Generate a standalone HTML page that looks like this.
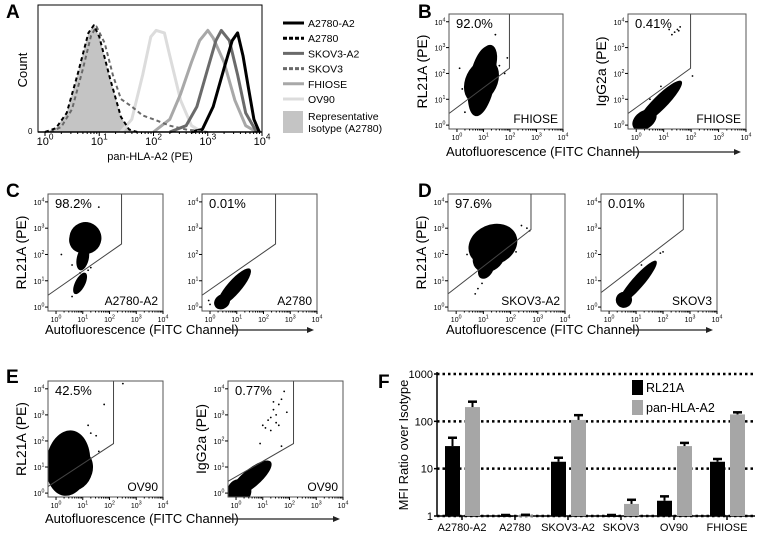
<!DOCTYPE html>
<html><head><meta charset="utf-8"><style>
html,body{margin:0;padding:0;background:#fff;}
svg{display:block;font-family:"Liberation Sans",sans-serif;}
</style></head><body>
<svg id="fig" width="762" height="543" viewBox="0 0 762 543" xmlns="http://www.w3.org/2000/svg"></svg>
<script>
// ---------- Panel F data ----------
const fCategories = ["A2780-A2","A2780","SKOV3-A2","SKOV3","OV90","FHIOSE"];
const fRL21A = [30, 1.03, 14, 1.03, 2.1, 14];
const fRL21AErr = [45, 1.05, 17, 1.05, 2.6, 16];
const fPanHLA = [200, 1.04, 107, 1.8, 30, 140];
const fPanHLAErr = [260, 1.06, 135, 2.2, 35, 155];
const fTicks = [1, 10, 100, 1000];
const fTickLabels = ["1","10","100","1000"];
// ---------- Panel A data (log10 intensity, relative count) ----------
const aIsoX = [0.0,0.2,0.4,0.6,0.8,0.9,1.0,1.2,1.4,1.55,1.7];
const aIsoY = [0,0.03,0.15,0.45,0.78,0.84,0.75,0.42,0.12,0.02,0];
const aSkov3X = [0.1,0.3,0.5,0.7,0.85,0.95,1.1,1.25,1.4,1.6,1.8,2.0,2.3,2.6,3.0];
const aSkov3Y = [0,0.04,0.18,0.5,0.76,0.83,0.7,0.45,0.26,0.2,0.13,0.1,0.05,0.02,0];
const aOv90X = [1.4,1.6,1.8,1.95,2.05,2.2,2.3,2.5,2.7,2.9];
const aOv90Y = [0,0.1,0.45,0.75,0.8,0.78,0.6,0.25,0.05,0];
const aFhioseX = [2.0,2.3,2.5,2.7,2.85,3.0,3.1,3.3,3.5,3.7,3.9];
const aFhioseY = [0,0.1,0.3,0.55,0.72,0.8,0.74,0.55,0.25,0.05,0];
const aSkovA2X = [2.3,2.6,2.8,3.0,3.15,3.25,3.4,3.55,3.7,3.9];
const aSkovA2Y = [0,0.05,0.2,0.5,0.72,0.8,0.72,0.45,0.15,0];
const aA2780A2X = [2.7,2.9,3.1,3.3,3.45,3.55,3.65,3.75,3.85,3.95];
const aA2780A2Y = [0,0.02,0.2,0.5,0.72,0.78,0.6,0.35,0.1,0];

const NS="http://www.w3.org/2000/svg";
const svg=document.getElementById('fig');
function el(tag,attrs,parent,text){
  const e=document.createElementNS(NS,tag);
  for(const k in attrs)e.setAttribute(k,attrs[k]);
  if(text!==undefined)e.textContent=text;
  (parent||svg).appendChild(e);return e;
}
function panelLabel(t,x,y){
  const e=el('text',{x:x,y:y,'font-size':19,'font-weight':'bold'},svg,t);
  
  
}
function pow10(parent,x,y,exp,fs){
  const t=el('text',{x:x,y:y,'font-size':fs,'text-anchor':'middle'},parent);
  
  
  el('tspan',{},t,'10');
  el('tspan',{dy:-fs*0.5,'font-size':fs*0.75},t,String(exp));
}

// ---------- Panel A ----------
panelLabel('A',6,18);
(function(){
  const g=el('g',{});
  
  
  const L=38,R=262,T=5,B=132;
  const sx=v=>45+v*54.25;
  function path(xs,ys){
    let d='';xs.forEach((v,i)=>{d+=(i?'L':'M')+sx(v).toFixed(1)+','+(B-ys[i]*127).toFixed(1);});return d;
  }
  const f=el('path',{d:path(aIsoX,aIsoY)+'Z',fill:'#c4c4c4',stroke:'none'},g);
  
  const curves=[
    [aOv90X,aOv90Y,'#dcdcdc',3,null,'ov90-curve'],
    [aFhioseX,aFhioseY,'#a8a8a8',3,null,'fhiose-curve'],
    [aSkovA2X,aSkovA2Y,'#6a6a6a',3,null,'skov3-a2-curve'],
    [aA2780A2X,aA2780A2Y,'#000',3,null,'a2780-a2-curve'],
    [aSkov3X,aSkov3Y,'#6a6a6a',2,'4 3','skov3-curve'],
    [aIsoX,aIsoY,'#000',2,'4 3','a2780-curve'],
  ];
  curves.forEach(c=>{
    const p=el('path',{d:path(c[0],c[1]),fill:'none',stroke:c[2],'stroke-width':c[3],'stroke-dasharray':c[4]||'none','stroke-linejoin':'round'},g);
    
  });
  el('rect',{x:L,y:T,width:R-L,height:B-T,fill:'none',stroke:'#000','stroke-width':1},g);
  el('line',{x1:L,y1:B,x2:R,y2:B,stroke:'#000','stroke-width':1.5},g);
  for(let e=0;e<=4;e++){
    el('line',{x1:sx(e),y1:B,x2:sx(e),y2:B+4,stroke:'#000'},g);
    for(let m=2;m<10&&e<4;m++)el('line',{x1:sx(e+Math.log10(m)),y1:B,x2:sx(e+Math.log10(m)),y2:B+2,stroke:'#000'},g);
    pow10(g,sx(e),145,e,11);
  }
  el('text',{x:28,y:134,'font-size':8},g,'0');
  const yl=el('text',{x:0,y:0,'font-size':13,'text-anchor':'middle',transform:'translate(27,70) rotate(-90)'},g,'Count');
  
  const xl=el('text',{x:150,y:160,'font-size':11,'text-anchor':'middle'},g,'pan-HLA-A2 (PE)');
  
  const leg=[['A2780-A2','#000',null],['A2780','#000','4 2'],['SKOV3-A2','#6a6a6a',null],['SKOV3','#6a6a6a','4 2'],['FHIOSE','#a8a8a8',null],['OV90','#dcdcdc',null]];
  leg.forEach((l,i)=>{
    const y=23+i*15.2;
    const lg=el('g',{},g);
    
    
    el('line',{x1:283,y1:y,x2:304,y2:y,stroke:l[1],'stroke-width':3,'stroke-dasharray':l[2]||'none'},lg);
    el('text',{x:308,y:y+4,'font-size':10.5},lg,l[0]);
  });
  const ig=el('g',{},g);
  
  el('rect',{x:283,y:111,width:20,height:22,fill:'#c4c4c4'},ig);
  el('text',{x:308,y:120,'font-size':10.5},ig,'Representative');
  el('text',{x:308,y:132,'font-size':10.5},ig,'Isotype (A2780)');
})();

// ---------- Scatter plots ----------
function scatter(o){
  const g=el('g',{});
  
  
  const L=o.x,R=o.x+o.w,T=o.y,B=o.y+o.h;
  const sx=v=>L+(v+0.3)/4.3*o.w, sy=v=>B-(v+0.15)/4.45*o.h;
  const clip='clip-'+o.name;
  const cp=el('clipPath',{id:clip},g);el('rect',{x:L,y:T,width:o.w,height:o.h},cp);
  const cg=el('g',{'clip-path':'url(#'+clip+')'},g);
  o.blobs.forEach(b=>{
    const x1=sx(b[0]),y1=sy(b[1]),x2=sx(b[2]),y2=sy(b[3]);
    const cx=(x1+x2)/2,cy=(y1+y2)/2,len=Math.hypot(x2-x1,y2-y1)/2;
    const ang=Math.atan2(y2-y1,x2-x1)*180/Math.PI;
    const e=el('ellipse',{cx:cx,cy:cy,rx:Math.max(len,b[4]),ry:b[4],fill:'#000',transform:`rotate(${ang} ${cx} ${cy})`},cg);
    
  });
  (o.dots||[]).forEach(d=>el('circle',{cx:sx(d[0]),cy:sy(d[1]),r:0.9,fill:'#000'},cg));
  let gd='M'+L+','+sy(o.gate[0])+'L'+sx(o.gate[1])+','+sy(o.gate[2])+'L'+sx(o.gate[1])+','+T;
  const gp=el('path',{d:gd,fill:'none',stroke:'#444','stroke-width':1},g);
  
  el('rect',{x:L,y:T,width:o.w,height:o.h,fill:'none',stroke:'#555','stroke-width':1},g);
  for(let e=0;e<=4;e++){
    el('line',{x1:sx(e),y1:B,x2:sx(e),y2:B+3,stroke:'#000'},g);
    el('line',{x1:L,y1:sy(e),x2:L-3,y2:sy(e),stroke:'#000'},g);
    for(let m=2;m<10&&e<4;m++){
      el('line',{x1:sx(e+Math.log10(m)),y1:B,x2:sx(e+Math.log10(m)),y2:B+1.5,stroke:'#000'},g);
    }
    pow10(g,sx(e),B+11,e,7);
    pow10(g,L-9,sy(e)+3,e,7);
  }
  const pt=el('text',{x:L+7,y:T+14,'font-size':13},g,o.pct);
  
  const sl=el('text',{x:R-5,y:B-6,'font-size':12,'text-anchor':'end'},g,o.label);
  
  if(o.ytitle){
    const yt=el('text',{x:0,y:0,'font-size':14,'text-anchor':'middle',transform:`translate(${L-22},${(T+B)/2}) rotate(-90)`},g,o.ytitle);
    
  }
}
function xtitle(x,y,ax1,ax2){
  const t=el('text',{x:x,y:y,'font-size':13},svg,'Autofluorescence (FITC Channel)');
  
  const a=el('g',{});
  el('line',{x1:ax1,y1:y-4,x2:ax2-5,y2:y-4,stroke:'#222','stroke-width':1.2},a);
  el('path',{d:`M${ax2},${y-4}L${ax2-7},${y-7}L${ax2-7},${y-1}Z`,fill:'#222'},a);
}

// B
panelLabel('B',418,18);
scatter({name:'scatter-b-rl21a',x:449,y:14,w:114,h:115,pct:'92.0%',label:'FHIOSE',ytitle:'RL21A (PE)',gate:[0.45,1.98,2.2],
  blobs:[[0.7,0.35,1.2,3.05,13],[0.55,0.9,1.3,2.5,16],[0.9,1.6,1.3,3.1,10]],
  dots:[[1.6,2.3],[1.8,2.0],[0.2,1.4],[1.45,3.5],[0.1,2.2],[1.9,2.6],[0.3,0.5]]});
scatter({name:'scatter-b-igg2a',x:628,y:14,w:118,h:115,pct:'0.41%',label:'FHIOSE',ytitle:'IgG2a (PE)',gate:[0.45,1.98,2.2],
  blobs:[[0.05,0.0,1.65,1.7,7],[-0.1,-0.1,0.7,0.5,9]],
  dots:[[1.4,3.6],[1.5,3.7],[1.6,3.8],[1.3,3.5],[1.55,3.65],[1.2,3.7],[2.05,1.9],[0.5,1.0],[0.9,1.5]]});
xtitle(446,156,627,741);

// C
panelLabel('C',6,197);
scatter({name:'scatter-c-a2780-a2',x:48,y:194,w:115,h:117,pct:'98.2%',label:'A2780-A2',ytitle:'RL21A (PE)',gate:[0.45,2.45,2.4],
  blobs:[[0.8,2.1,1.4,3.15,16],[0.75,2.2,1.2,2.9,13],[0.9,1.4,1.1,2.3,6],[0.7,0.5,1.1,1.3,5]],
  dots:[[0.2,2.0],[1.6,3.8],[0.9,1.3],[1.2,1.4],[0.6,0.4],[1.0,1.8],[1.3,1.5],[0.6,1.6]]});
scatter({name:'scatter-c-a2780',x:202,y:194,w:115,h:117,pct:'0.01%',label:'A2780',gate:[0.45,2.45,2.4],
  blobs:[[0.3,0.05,1.5,1.45,7],[0.2,0.0,0.7,0.4,7]],dots:[[0.0,0.1],[-0.05,0.25]]});
xtitle(45,334,226,314);

// D
panelLabel('D',418,197);
scatter({name:'scatter-d-skov3-a2',x:448,y:194,w:117,h:117,pct:'97.6%',label:'SKOV3-A2',ytitle:'RL21A (PE)',gate:[0.5,2.75,2.95],
  blobs:[[0.5,2.0,2.2,2.75,20],[0.7,1.5,1.7,2.3,14],[0.9,1.1,1.3,1.8,7]],
  dots:[[0.8,0.7],[0.95,0.9],[2.6,3.0],[2.4,3.1],[0.4,2.0],[0.7,0.5],[2.7,2.9],[2.2,2.1]]});
scatter({name:'scatter-d-skov3',x:601,y:194,w:116,h:117,pct:'0.01%',label:'SKOV3',gate:[0.55,2.75,2.95],
  blobs:[[0.35,0.1,1.75,1.75,6],[0.3,0.1,0.8,0.45,8]],dots:[[1.9,2.05],[2.0,2.1],[1.2,1.6]]});
xtitle(446,334,627,713);

// E
panelLabel('E',6,383);
scatter({name:'scatter-e-ov90',x:48,y:381,w:115,h:116,pct:'42.5%',label:'OV90',ytitle:'RL21A (PE)',gate:[0.25,2.15,1.9],
  blobs:[[0.3,-0.1,0.6,2.4,22],[-0.2,0.5,1.3,1.0,18],[0.1,0.2,1.1,1.6,20]],
  dots:[[1.3,2.3],[1.5,2.2],[1.6,1.6],[2.5,4.2],[1.8,3.4],[1.2,2.6]]});
scatter({name:'scatter-e-igg2a',x:228,y:381,w:115,h:116,pct:'0.77%',label:'OV90',ytitle:'IgG2a (PE)',gate:[0.45,2.15,1.9],
  blobs:[[-0.2,-0.1,1.3,1.2,9],[-0.25,-0.15,0.5,0.3,12]],
  dots:[[1.0,2.6],[1.2,2.8],[1.4,3.2],[1.5,3.0],[1.6,3.4],[1.3,2.4],[1.7,3.6],[1.8,3.9],[1.1,2.5],[1.5,2.7],[1.4,3.5],[1.9,3.1],[1.6,2.6],[0.9,1.9],[1.7,1.8],[1.3,2.9]]});
xtitle(45,523,226,340);

// ---------- Panel F ----------
panelLabel('F',378,388);
(function(){
  const g=el('g',{});
  
  
  const L=437,R=755,T=374,B=516;
  const y=v=>B-(B-T)*Math.log10(v)/3;
  const cx=i=>462+i*53;
  fTicks.forEach((t,i)=>{
    const gl=el('line',{x1:L,y1:y(t),x2:R,y2:y(t),stroke:'#000','stroke-width':2.5,'stroke-dasharray':'2.5 3'},g);
    
    el('line',{x1:L-3,y1:y(t),x2:L,y2:y(t),stroke:'#000','stroke-width':1.5},g);
    const tl=el('text',{x:L-4,y:y(t)+4,'font-size':11,'text-anchor':'end'},g,fTickLabels[i]);
    
  });
  el('line',{x1:L,y1:T-2,x2:L,y2:B,stroke:'#000','stroke-width':1.5},g);
  el('line',{x1:L,y1:B,x2:R,y2:B,stroke:'#000','stroke-width':1.5},g);
  function bar(i,v,err,col,off,name){
    const x=cx(i)+off;
    const r=el('rect',{x:x,y:y(v),width:15,height:Math.max(B-y(v),1.5),fill:col},g);
    
    
    if(err>v){
      el('line',{x1:x+7.5,y1:y(v),x2:x+7.5,y2:y(err),stroke:'#000','stroke-width':2},g);
      el('line',{x1:x+3,y1:y(err),x2:x+12,y2:y(err),stroke:'#000','stroke-width':2.5},g);
    }
  }
  fCategories.forEach((c,i)=>{
    bar(i,fRL21A[i],fRL21AErr[i],'#000',-17,'bar-rl21a');
    bar(i,fPanHLA[i],fPanHLAErr[i],'#a6a6a6',3,'bar-pan-hla-a2');
    el('line',{x1:cx(i),y1:B,x2:cx(i),y2:B+4,stroke:'#000','stroke-width':1.5},g);
    const xl=el('text',{x:cx(i),y:B+15,'font-size':11,'text-anchor':'middle'},g,c);
    
  });
  const yt=el('text',{x:0,y:0,'font-size':13,'text-anchor':'middle',transform:'translate(408,445) rotate(-90)'},g,'MFI Ratio over Isotype');
  
  const l1=el('g',{},g);
  el('rect',{x:632,y:380,width:11,height:15,fill:'#000'},l1);
  el('text',{x:646,y:392,'font-size':12.5},l1,'RL21A');
  const l2=el('g',{},g);
  el('rect',{x:632,y:400,width:11,height:15,fill:'#a6a6a6'},l2);
  el('text',{x:646,y:412,'font-size':12.5},l2,'pan-HLA-A2');
})();
</script>
</body></html>
